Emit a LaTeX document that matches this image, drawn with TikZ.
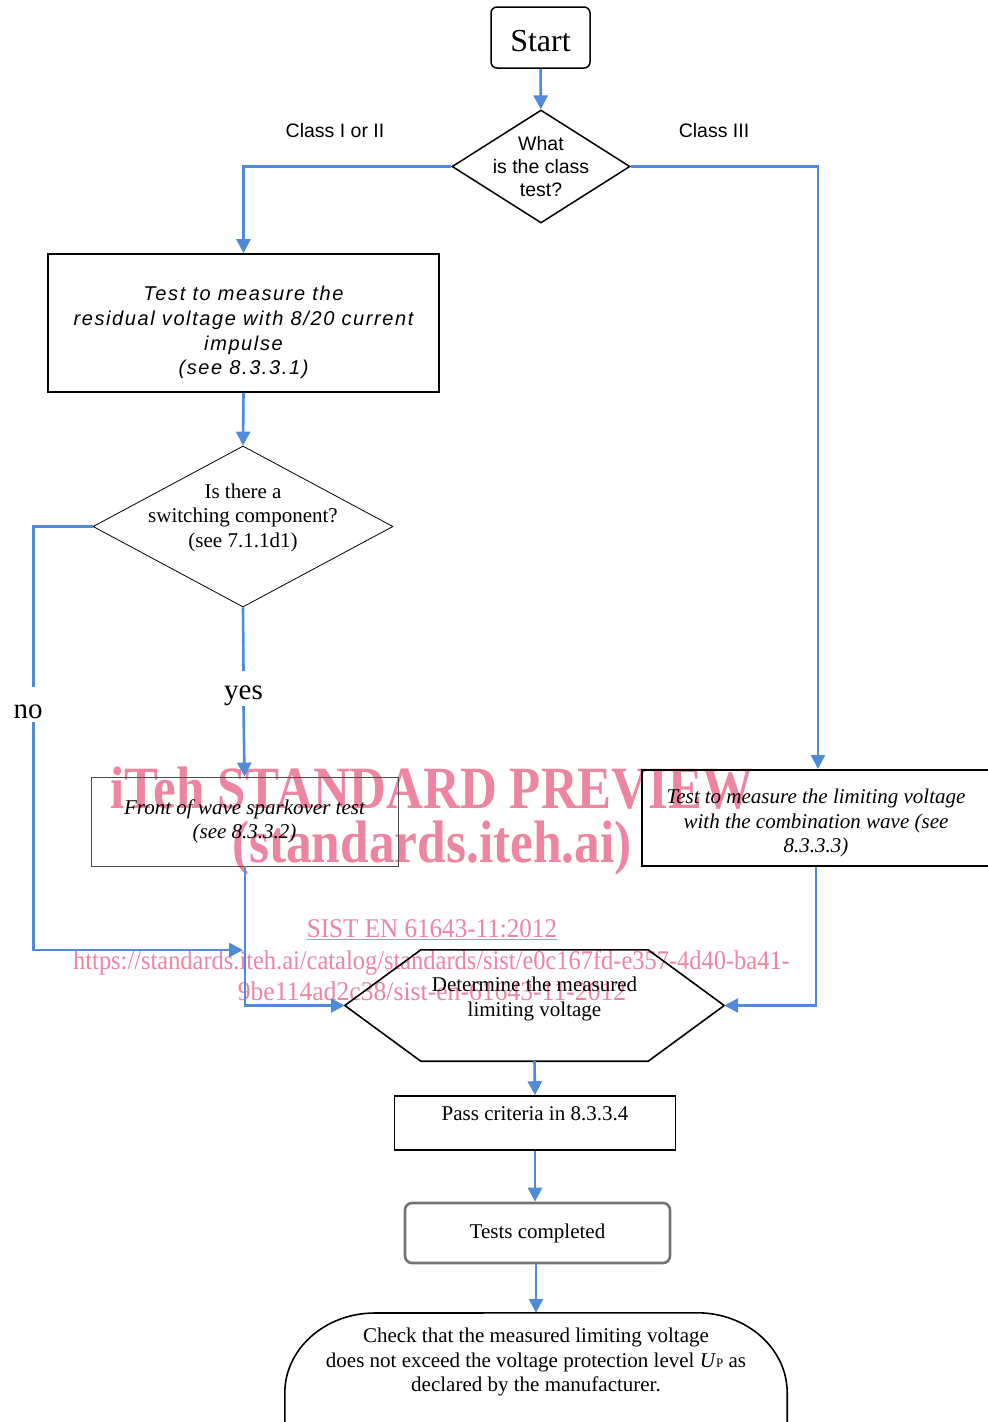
\documentclass[tikz,border=0pt]{standalone}
\usepackage{graphicx}
\usepackage{fontspec}
\setmainfont{Liberation Serif}
\newfontfamily\arialfont{Liberation Sans}
\newfontfamily\arialwide[LetterSpace=8]{Liberation Sans}
\usetikzlibrary{shapes.geometric,arrows.meta,positioning,calc}
\definecolor{flowblue}{RGB}{79,139,214}
\definecolor{markpink}{RGB}{236,132,162}
\newcommand{\fsz}[2]{\fontsize{#1}{#2}\selectfont}

\begin{document}
\begin{tikzpicture}[x=1pt,y=-1pt,
  every node/.style={inner sep=0pt},
  flow/.style={draw=flowblue,line width=2.6pt,-{Triangle[length=14pt,width=14pt]}},
  link/.style={draw=flowblue,line width=2.6pt},
  box/.style={draw,rectangle,line width=1.6pt,align=center},
  decide/.style={draw,diamond},
  serif/.style={font=\fsz{21}{24.5}},
  itserif/.style={font=\fsz{21}{24.5}\itshape},
  sans/.style={font=\arialfont\fsz{19.5}{23}},
  wmark/.style={text=markpink,anchor=base}]
\useasboundingbox (0,0) rectangle (988,1422);

% watermark, under the chart
\node[wmark,font=\fsz{60}{60}\bfseries] (wmtitle) at (432,808) {\scalebox{0.85}[1]{iTeh STANDARD PREVIEW}};
\node[wmark,font=\fsz{60}{60}\bfseries] (wmsite) at (432,862) {\scalebox{0.857}[1]{(standards.iteh.ai)}};
\node[wmark,font=\fsz{27}{27}] (wmcode) at (432,937) {\scalebox{0.93}[1]{\underline{SIST EN 61643-11:2012}}};
\node[wmark,font=\fsz{27}{27}] (wmurl) at (431.5,969) {\scalebox{0.905}[1]{https://standards.iteh.ai/catalog/standards/sist/e0c167fd-e357-4d40-ba41-}};
\node[wmark,font=\fsz{27}{27}] (wmpath) at (432,1000) {\scalebox{0.95}[1]{9be114ad2c38/sist-en-61643-11-2012}};

% top of the chart
\node[draw,rounded corners=6pt,line width=1.5pt,minimum width=99pt,minimum height=61pt,
  label={[font=\fsz{32}{32},yshift=-4pt]center:Start}] (start) at (540.5,37.5) {};
\node[decide,line width=1.5pt,minimum width=178pt,minimum height=113pt,
  label={[sans,align=center]center:{What\\is the class\\test?}}] (class) at (541,166.5) {};
\node[sans] (lowclass) at (335,131) {Class I or II};
\node[sans] (highclass) at (714,131) {Class III};

% class I or II branch
\node[box,minimum width=391pt,minimum height=138pt,
  label={[align=center,yshift=-9.5pt,font=\arialwide\itshape\fsz{20}{24.7}]center:{Test to measure the\\residual voltage with 8/20 current\\impulse\\(see 8.3.3.1)}}] (resid) at (243.5,323) {};
\node[decide,line width=0.8pt,minimum width=300pt,minimum height=161pt,
  label={[serif,align=center,yshift=9pt]center:{Is there a\\switching component?\\(see 7.1.1d1)}}] (switch) at (243,526.5) {};
\node[anchor=base,font=\fsz{29}{29},inner xsep=3pt,text height=28pt,text depth=7pt] (yes) at (243.5,699) {yes};
\node[anchor=base,font=\fsz{29}{29},inner xsep=3pt,text height=31pt,text depth=4pt] (no) at (28,718) {no};
\node[box,itserif,draw=black!70,line width=0.9pt,minimum width=307pt,minimum height=89pt] (front) at (244.5,821.5) {Front of wave sparkover test\\(see 8.3.3.2)};

% class III branch
\node[box,line width=2pt,minimum width=348pt,minimum height=96pt,
  label={[itserif,align=center,yshift=-5pt]center:{Test to measure the limiting voltage\\with the combination wave (see\\8.3.3.3)}}] (limit) at (816,818) {};

% bottom of the chart
\node[minimum width=379pt,minimum height=111pt,
  label={[serif,align=center,yshift=6.5pt]center:{Determine the measured\\limiting voltage}}] (det) at (534.5,1005.5) {};
\draw[line width=1.6pt] (det.west) -- ($(det.north west)+(76,0)$) -- ($(det.north east)+(-76,0)$)
  -- (det.east) -- ($(det.south east)+(-76,0)$) -- ($(det.south west)+(76,0)$) -- cycle;
\node[box,minimum width=281pt,minimum height=54pt,
  label={[serif,yshift=9.5pt]center:{Pass criteria in 8.3.3.4}}] (pass) at (535,1123) {};
\node[draw=black!55,rounded corners=7pt,line width=2.6pt,minimum width=265pt,minimum height=60pt,serif] (done) at (537.5,1233) {Tests completed};
\node[minimum width=502pt,minimum height=174pt,
  label={[serif,align=center,yshift=38pt]center:{Check that the measured limiting voltage\\does not exceed the voltage protection level \textit{U}{\fsz{13}{13}P} as\\declared by the manufacturer.}}] (check) at (536,1400) {};
\draw[line width=1.6pt] (check.south west) -- ($(check.west)+(0,-7)$)
  arc[start angle=180,end angle=270,x radius=90,y radius=80] -- ($(check.north east)+(-90,0)$)
  arc[start angle=270,end angle=360,x radius=90,y radius=80] -- (check.south east);
\coordinate (nomerge) at (243,950);

% connectors
\draw[flow] (start) -- (class);
\draw[flow] (class.west) -| (resid.north);
\draw[flow] (class.east) -| ([xshift=2pt]limit.north);
\draw[flow] (resid.south) -- (switch.north);
\draw[link] (switch.south) -- (yes.north);
\draw[flow] (yes.south) -- (front.north);
\draw[link] (switch.west) -| ([xshift=5.5pt]no.north);
\draw[flow] ([xshift=5.5pt]no.south) |- (nomerge);
\draw[flow] ([xshift=0.5pt]front.south) |- (det.west);
\draw[flow] (limit.south) |- (det.east);
\draw[flow] (det.south) -- (pass.north);
\draw[flow] (pass.south) -- (pass.south |- done.north);
\draw[flow] ([xshift=-1.5pt]done.south) -- ([xshift=-1.5pt]done.south |- check.north);
\end{tikzpicture}
\end{document}
